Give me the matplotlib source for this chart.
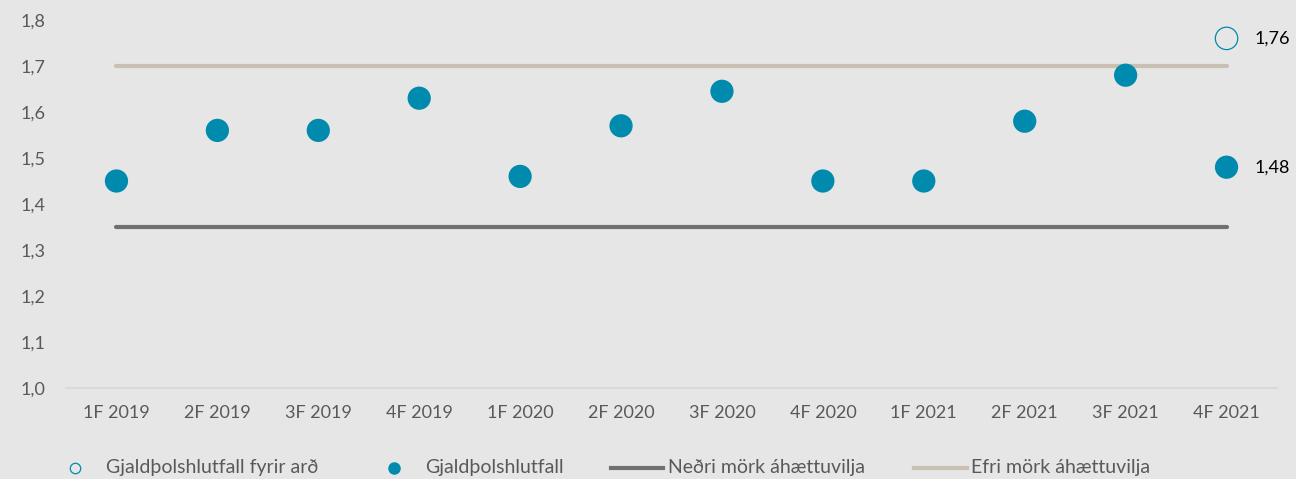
import matplotlib.pyplot as plt
from matplotlib.lines import Line2D

plt.rcParams['font.family'] = ['Lato', 'DejaVu Sans']

quarters = ["1F 2019", "2F 2019", "3F 2019", "4F 2019", "1F 2020", "2F 2020",
            "3F 2020", "4F 2020", "1F 2021", "2F 2021", "3F 2021", "4F 2021"]
gjaldthol = [1.45, 1.56, 1.56, 1.63, 1.46, 1.57, 1.645, 1.45, 1.45, 1.58, 1.68, 1.48]
fyrir_ard = [None] * 11 + [1.76]
nedri = [1.35] * 12
efri = [1.70] * 12

teal = "#008BAE"
bg = "#E6E6E6"
txt = "#595959"
dark = "#707070"
beige = "#C9C0B3"

fig = plt.figure(figsize=(12.96, 4.79), dpi=100, facecolor=bg)
ax = fig.add_axes([66 / 1296, 1 - 388 / 479, 1211 / 1296, 368 / 479])
ax.set_facecolor(bg)

x = list(range(len(quarters)))
ax.plot(x, nedri, color=dark, lw=3, solid_capstyle="round", zorder=2)
ax.plot(x, efri, color=beige, lw=3, solid_capstyle="round", zorder=2)
ax.scatter(x, gjaldthol, s=280, color=teal, edgecolors="none", zorder=3)
fx = [i for i, v in enumerate(fyrir_ard) if v is not None]
fy = [v for v in fyrir_ard if v is not None]
ax.scatter(fx, fy, s=260, facecolors="none", edgecolors=teal, linewidths=0.9, zorder=3)

for xi, v in zip(fx + [x[-1]], fy + [gjaldthol[-1]]):
    ax.annotate(f"{v:.2f}".replace(".", ","), (xi, v), xytext=(20, 0),
                textcoords="offset points", va="center", fontsize=13, color="black")

ax.set_xlim(-0.5, 11.5)
ax.set_ylim(1.0, 1.8)
ax.set_xticks(x)
ax.set_xticklabels(quarters)
yt = [1.0 + 0.1 * i for i in range(9)]
ax.set_yticks(yt)
ax.set_yticklabels([f"{v:.1f}".replace(".", ",") for v in yt])
ax.tick_params(length=0, labelsize=13, colors=txt)
ax.tick_params(axis="x", pad=12)
ax.tick_params(axis="y", pad=15)
for s in ["left", "right", "top"]:
    ax.spines[s].set_visible(False)
ax.spines["bottom"].set_color("#D9D9D9")
ax.spines["bottom"].set_linewidth(1.5)

# legend drawn by hand to match spacing
W, H = 1296, 479
ly = 1 - 468 / H
fs = 14
fig.add_artist(Line2D([75 / W], [ly], ls="none", marker="o", ms=7.5, mfc="none",
                      mec=teal, mew=0.9, transform=fig.transFigure))
fig.text(106 / W, ly, "Gjaldþolshlutfall fyrir arð", va="center", fontsize=fs, color=txt)
fig.add_artist(Line2D([394 / W], [ly], ls="none", marker="o", ms=8, color=teal,
                      transform=fig.transFigure))
fig.text(425 / W, ly, "Gjaldþolshlutfall", va="center", fontsize=fs, color=txt)
fig.add_artist(Line2D([611 / W, 663 / W], [ly, ly], color=dark, lw=3,
                      transform=fig.transFigure))
fig.text(668 / W, ly, "Neðri mörk áhættuvilja", va="center", fontsize=fs, color=txt)
fig.add_artist(Line2D([914 / W, 967 / W], [ly, ly], color=beige, lw=3,
                      transform=fig.transFigure))
fig.text(971 / W, ly, "Efri mörk áhættuvilja", va="center", fontsize=fs, color=txt)

fig.savefig("out.png", dpi=100, facecolor=bg)
